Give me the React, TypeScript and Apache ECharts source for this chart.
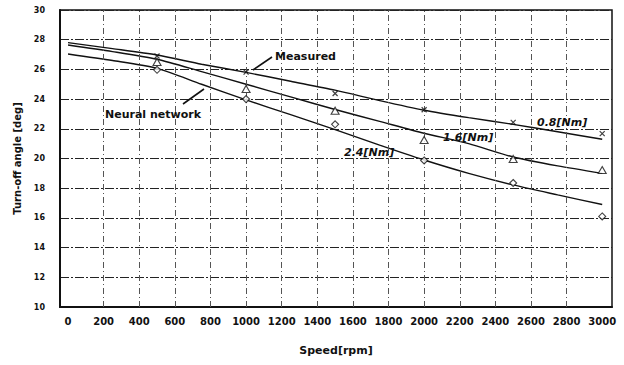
import React, { useEffect, useRef } from "react";
import * as echarts from "echarts";

// Tick labels on the speed axis
const speedTicks = [0, 200, 400, 600, 800, 1000, 1200, 1400, 1600, 1800, 2000, 2200, 2400, 2600, 2800, 3000];
// Speeds at which vertical grid lines are drawn
const gridSpeeds = [200, 400, 600, 800, 1000, 1200, 1400, 1600, 1800, 2000, 2200, 2400, 2600, 2800];

// Measured points (rpm, deg)
const measuredSpeeds = [500, 1000, 1500, 2000, 2500, 3000];
const measured08 = [26.9, 25.82, 24.38, 23.28, 22.43, 21.67];
const measured16 = [26.5, 24.68, 23.22, 21.25, 19.97, 19.22];
const measured24 = [25.97, 24.0, 22.3, 19.87, 18.35, 16.1];

// Neural network curves
const nnSpeeds = [0, 250, 500, 750, 1000, 1250, 1500, 1750, 2000, 2250, 2500, 2750, 3000];
const nn08 = [27.8, 27.4, 26.97, 26.35, 25.8, 25.2, 24.6, 23.9, 23.25, 22.75, 22.3, 21.8, 21.3];
const nn16 = [27.64, 27.2, 26.68, 25.85, 25.0, 24.15, 23.3, 22.5, 21.7, 21.0, 20.1, 19.5, 19.0];
const nn24 = [27.04, 26.6, 26.07, 25.0, 23.95, 22.95, 21.95, 20.9, 19.9, 19.0, 18.22, 17.55, 16.9];

const FONT = '"DejaVu Sans", "Liberation Sans", sans-serif';
const INK = "#111";

export default function App() {
  const ref = useRef<HTMLDivElement>(null);

  useEffect(() => {
    const chart = echarts.init(ref.current!, null, { renderer: "svg" });
    const pair = (xs: number[], ys: number[]) => xs.map((x, i) => [x, ys[i]]);

    const nnLine = (name: string, ys: number[], extra: any = {}) => ({
      name,
      type: "line",
      data: pair(nnSpeeds, ys),
      smooth: 0.25,
      showSymbol: false,
      symbol: "none",
      lineStyle: { color: INK, width: 1.4 },
      z: 3,
      ...extra,
    });

    const markerItem = { color: "#fff", borderColor: INK, borderWidth: 1.1 };

    chart.setOption({
      animation: false,
      backgroundColor: "#fff",
      grid: {
        left: 60,
        right: 12,
        top: 10,
        bottom: 58,
        show: true,
        borderColor: INK,
        borderWidth: 1.5,
        backgroundColor: "transparent",
      },
      xAxis: {
        type: "value",
        min: -45,
        max: 3055,
        name: "Speed[rpm]",
        nameLocation: "middle",
        nameGap: 38,
        nameTextStyle: { fontFamily: FONT, fontWeight: "bold", fontSize: 11, color: INK },
        axisLine: { show: true, onZero: false, lineStyle: { color: INK, width: 2 } },
        axisTick: { show: false },
        splitLine: { show: false },
        axisLabel: {
          customValues: speedTicks,
          formatter: (v: number) => String(v),
          fontFamily: FONT,
          fontWeight: "bold",
          fontSize: 10,
          color: INK,
          margin: 9,
        },
      },
      yAxis: {
        type: "value",
        min: 10,
        max: 30,
        interval: 2,
        name: "Turn-off angle [deg]",
        nameLocation: "middle",
        nameGap: 35,
        nameRotate: 90,
        nameTextStyle: { fontFamily: FONT, fontWeight: "bold", fontSize: 10, color: INK },
        axisLine: { show: true, onZero: false, lineStyle: { color: INK, width: 2 } },
        axisTick: { show: false },
        splitLine: { show: true, lineStyle: { color: "#222", width: 1, type: [9, 2, 2, 2] } },
        axisLabel: { fontFamily: FONT, fontWeight: "bold", fontSize: 8, color: INK, margin: 15 },
      },
      series: [
        nnLine("Neural network 0.8[Nm]", nn08, {
          markLine: {
            silent: true,
            symbol: "none",
            label: { show: false },
            lineStyle: { color: "#555", width: 1, type: [6, 3, 1, 3] },
            data: gridSpeeds.map((v) => ({ xAxis: v })),
          },
        }),
        nnLine("Neural network 1.6[Nm]", nn16),
        nnLine("Neural network 2.4[Nm]", nn24),
        {
          name: "Measured 0.8[Nm]",
          type: "scatter",
          data: pair(measuredSpeeds, measured08),
          symbol: "path://M0,0L10,10M10,0L0,10",
          symbolSize: 5,
          itemStyle: { color: "transparent", borderColor: INK, borderWidth: 1.2 },
          z: 5,
        },
        {
          name: "Measured 1.6[Nm]",
          type: "scatter",
          data: pair(measuredSpeeds, measured16),
          symbol: "triangle",
          symbolSize: [8, 7],
          itemStyle: markerItem,
          z: 5,
        },
        {
          name: "Measured 2.4[Nm]",
          type: "scatter",
          data: pair(measuredSpeeds, measured24),
          symbol: "diamond",
          symbolSize: [7, 7],
          itemStyle: markerItem,
          z: 5,
        },
      ],
      graphic: [
        {
          type: "text",
          x: 275,
          y: 56,
          z: 10,
          style: { text: "Measured", font: `bold 11px ${FONT}`, fill: INK, verticalAlign: "middle" },
        },
        {
          type: "line",
          z: 10,
          shape: { x1: 253, y1: 70, x2: 272, y2: 57 },
          style: { stroke: INK, lineWidth: 1.6 },
        },
        {
          type: "text",
          x: 105,
          y: 114,
          z: 10,
          style: { text: "Neural network", font: `bold 11px ${FONT}`, fill: INK, verticalAlign: "middle" },
        },
        {
          type: "line",
          z: 10,
          shape: { x1: 183, y1: 104, x2: 204, y2: 89 },
          style: { stroke: INK, lineWidth: 1.6 },
        },
        {
          type: "text",
          x: 537,
          y: 122,
          z: 10,
          style: { text: "0.8[Nm]", font: `italic bold 11px ${FONT}`, fill: INK, verticalAlign: "middle" },
        },
        {
          type: "text",
          x: 443,
          y: 137,
          z: 10,
          style: { text: "1.6[Nm]", font: `italic bold 11px ${FONT}`, fill: INK, verticalAlign: "middle" },
        },
        {
          type: "text",
          x: 344,
          y: 152,
          z: 10,
          style: { text: "2.4[Nm]", font: `italic bold 11px ${FONT}`, fill: INK, verticalAlign: "middle" },
        },
      ],
    });

    return () => chart.dispose();
  }, []);

  return (
    <div
      ref={ref}
      style={{ position: "fixed", left: 0, top: 0, width: 624, height: 365, background: "#fff" }}
    />
  );
}
